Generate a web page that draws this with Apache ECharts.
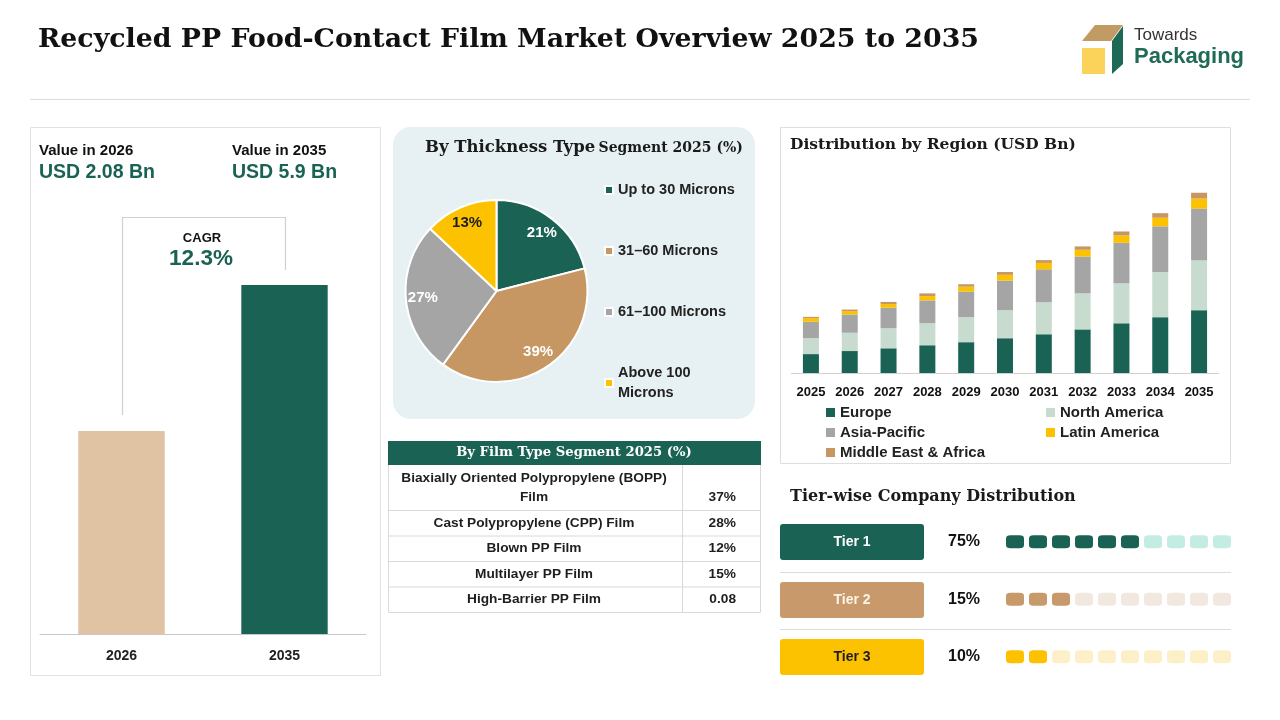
<!DOCTYPE html>
<html><head><meta charset="utf-8">
<script src="https://cdn.jsdelivr.net/npm/echarts@6/dist/echarts.min.js"></script>
<style>html,body{margin:0;padding:0;background:#fff}#c{width:1280px;height:720px}</style>
</head><body><div id="c"></div>
<script>
// ---------- data ----------
const pageTitle = 'Recycled PP Food-Contact Film Market Overview 2025 to 2035';
const summaryYears = ['2026', '2035'];
const summaryValues = [2.08, 5.9];
const summaryCaptions = ['Value in 2026', 'Value in 2035'];
const summaryLabels = ['USD 2.08 Bn', 'USD 5.9 Bn'];
const cagrValue = '12.3%';

const thicknessNames = ['Up to 30 Microns', '31–60 Microns', '61–100 Microns', 'Above 100 Microns'];
const thicknessShares = [21, 39, 27, 13];

const filmTypes = ['Biaxially Oriented Polypropylene (BOPP)\nFilm', 'Cast Polypropylene (CPP) Film', 'Blown PP Film', 'Multilayer PP Film', 'High-Barrier PP Film'];
const filmShares = ['37%', '28%', '12%', '15%', '0.08'];

const regionYears = ['2025', '2026', '2027', '2028', '2029', '2030', '2031', '2032', '2033', '2034', '2035'];
const regionNames = ['Europe', 'North America', 'Asia-Pacific', 'Latin America', 'Middle East & Africa'];
const europe = [0.62, 0.72, 0.81, 0.91, 1.01, 1.14, 1.27, 1.43, 1.63, 1.83, 2.06];
const northAmerica = [0.52, 0.60, 0.66, 0.72, 0.82, 0.92, 1.05, 1.18, 1.31, 1.48, 1.64];
const asiaPacific = [0.54, 0.60, 0.67, 0.75, 0.84, 0.97, 1.08, 1.21, 1.33, 1.50, 1.69];
const latinAmerica = [0.12, 0.11, 0.12, 0.14, 0.16, 0.19, 0.21, 0.22, 0.24, 0.28, 0.33];
const middleEastAfrica = [0.04, 0.05, 0.07, 0.09, 0.08, 0.09, 0.09, 0.11, 0.13, 0.15, 0.19];

const tierNames = ['Tier 1', 'Tier 2', 'Tier 3'];
const tierShares = ['75%', '15%', '10%'];
const tierFilledDots = [6, 3, 2];
const tierDotCount = 10;

// ---------- styles ----------
const GREEN = '#1a6354', TAN = '#c69763', GRAY = '#a5a5a5', YELLOW = '#fcc200', MINT = '#c7dccf', BEIGE = '#dfc3a2';
const SANS = '"Liberation Sans", Arial, sans-serif';
const SERIF = '"DejaVu Serif", "Liberation Serif", serif';
const regionColors = [GREEN, MINT, GRAY, YELLOW, TAN];
const pieColors = [GREEN, TAN, GRAY, YELLOW];
const tierColors = [GREEN, '#c8996a', YELLOW];
const tierTextColors = ['#ffffff', '#fbf4ea', '#1e1e1e'];
const tierLight = ['#c3ede3', '#f1e9e0', '#fdf0c9'];

const chart = echarts.init(document.getElementById('c'));

function txt(x, y, text, font, fill, align) {
  return { type: 'text', x: x, y: y, z: 5, style: { text: text, font: font, fill: fill, align: align || 'left', verticalAlign: 'middle' } };
}
function line(x1, y1, x2, y2, color, w) {
  return { type: 'line', z: 1, shape: { x1: x1, y1: y1, x2: x2, y2: y2 }, style: { stroke: color, lineWidth: w || 1 } };
}

const g = [];
// header
g.push(txt(38, 40, pageTitle, 'bold 26.8px ' + SERIF, '#111'));
g.push(line(30, 99.5, 1250, 99.5, '#dcdcdc'));
// logo
g.push({ type: 'polygon', z: 1, shape: { points: [[1095, 25], [1123, 25], [1111, 41], [1082, 41]] }, style: { fill: '#c29a64' } });
g.push({ type: 'polygon', z: 1, shape: { points: [[1112, 41], [1123, 26], [1123, 64], [1112, 74]] }, style: { fill: '#1c6a55' } });
g.push({ type: 'rect', z: 1, shape: { x: 1082, y: 48, width: 23, height: 26 }, style: { fill: '#fbd35a' } });
g.push(txt(1134, 35, 'Towards', '17px ' + SANS, '#333'));
g.push(txt(1134, 57, 'Packaging', 'bold 22px ' + SANS, '#1f6b57'));

// left panel
g.push({ type: 'rect', z: 0, shape: { x: 30.5, y: 127.5, width: 350, height: 548 }, style: { fill: 'none', stroke: '#e2e2e2', lineWidth: 1 } });
g.push(txt(39, 151, summaryCaptions[0], 'bold 15px ' + SANS, '#111'));
g.push(txt(39, 173, summaryLabels[0], 'bold 19.5px ' + SANS, GREEN));
g.push(txt(232, 151, summaryCaptions[1], 'bold 15px ' + SANS, '#111'));
g.push(txt(232, 173, summaryLabels[1], 'bold 19.5px ' + SANS, GREEN));
g.push({ type: 'polyline', z: 1, shape: { points: [[122.5, 415], [122.5, 217.5], [285.5, 217.5], [285.5, 270]] }, style: { stroke: '#d0d0d0', lineWidth: 1.2, fill: null } });
g.push(txt(202, 238, 'CAGR', 'bold 13px ' + SANS, '#111', 'center'));
g.push(txt(201, 259, cagrValue, 'bold 22.5px ' + SANS, GREEN, 'center'));

// pie card
g.push({ type: 'rect', z: 0, shape: { x: 393, y: 127, width: 362, height: 292, r: 18 }, style: { fill: '#e7f1f3' } });
g.push({ type: 'text', x: 425, y: 148, z: 5, style: {
  text: '{a|By Thickness Type} {b|Segment 2025 (%)}', verticalAlign: 'middle',
  rich: { a: { font: 'bold 16.5px ' + SERIF, fill: '#1a1a1a' }, b: { font: 'bold 14px ' + SERIF, fill: '#1a1a1a' } } } });

// table
const tX0 = 388.5, tX1 = 760.5, tXd = 682.5;
const rowTops = [465, 510, 535.5, 561, 586.5];
const rowBottom = 612;
const TF = 'bold 13.7px ' + SANS;
g.push({ type: 'rect', z: 1, shape: { x: 388, y: 441, width: 373, height: 24 }, style: { fill: GREEN } });
g.push(txt(574, 453, 'By Film Type Segment 2025 (%)', 'bold 13.2px ' + SERIF, '#ffffff', 'center'));
filmTypes.forEach(function (name, i) {
  const top = rowTops[i];
  const bot = i < rowTops.length - 1 ? rowTops[i + 1] : rowBottom;
  const lines = name.split('\n');
  if (lines.length > 1) {
    g.push(txt(534, top + 13, lines[0], TF, '#1e1e1e', 'center'));
    g.push(txt(534, top + 32, lines[1], TF, '#1e1e1e', 'center'));
    g.push(txt(736, top + 32, filmShares[i], TF, '#1e1e1e', 'right'));
  } else {
    g.push(txt(534, (top + bot) / 2, name, TF, '#1e1e1e', 'center'));
    g.push(txt(736, (top + bot) / 2, filmShares[i], TF, '#1e1e1e', 'right'));
  }
  g.push(line(tX0, bot + 0.5, tX1, bot + 0.5, '#d9d9d9'));
});
g.push(line(tX0, 465, tX0, rowBottom, '#d9d9d9'));
g.push(line(tX1, 465, tX1, rowBottom, '#d9d9d9'));
g.push(line(tXd, 465, tXd, rowBottom, '#d9d9d9'));

// right top panel
g.push({ type: 'rect', z: 0, shape: { x: 780.5, y: 127.5, width: 450, height: 336 }, style: { fill: 'none', stroke: '#dedede', lineWidth: 1 } });
g.push(txt(790, 145, 'Distribution by Region (USD Bn)', 'bold 15.5px ' + SERIF, '#1a1a1a'));

// tier section
g.push(txt(790, 497, 'Tier-wise Company Distribution', 'bold 16px ' + SERIF, '#1a1a1a'));
const tierBoxTops = [524, 582, 639];
const tierCenters = [542, 600, 657];
tierNames.forEach(function (n, i) {
  g.push({ type: 'rect', z: 1, shape: { x: 780, y: tierBoxTops[i], width: 144, height: 36, r: 3 }, style: { fill: tierColors[i] } });
  g.push(txt(852, tierBoxTops[i] + 18, n, 'bold 14px ' + SANS, tierTextColors[i], 'center'));
  g.push(txt(964, tierCenters[i], tierShares[i], 'bold 16px ' + SANS, '#111', 'center'));
});
g.push(line(780, 572.5, 1231, 572.5, '#dcdcdc'));
g.push(line(780, 629.5, 1231, 629.5, '#dcdcdc'));

// tier dots data
const dotData = [];
tierNames.forEach(function (n, r) {
  for (let i = 0; i < tierDotCount; i++) {
    dotData.push({ value: [i, r], itemStyle: { color: i < tierFilledDots[r] ? tierColors[r] : tierLight[r], opacity: 1 } });
  }
});

const regionSeries = [europe, northAmerica, asiaPacific, latinAmerica, middleEastAfrica].map(function (arr, i) {
  return { name: regionNames[i], type: 'bar', stack: 'region', xAxisIndex: 1, yAxisIndex: 1, barWidth: 16, data: arr, itemStyle: { color: regionColors[i] } };
});

const labelColors = ['#ffffff', '#ffffff', '#ffffff', '#1e1e1e'];

const option = {
  animation: false,
  textStyle: { fontFamily: SANS },
  grid: [
    { left: 40, top: 285, width: 326, height: 349 },
    { left: 791.5, top: 190, width: 427, height: 183 },
    { left: 1003.5, top: 513, width: 230, height: 172.5 }
  ],
  xAxis: [
    { gridIndex: 0, type: 'category', data: summaryYears, axisLine: { onZero: false, lineStyle: { color: '#c8c8c8' } }, axisTick: { show: false },
      axisLabel: { color: '#222', fontWeight: 'bold', fontSize: 14, margin: 15 } },
    { gridIndex: 1, type: 'category', data: regionYears, axisLine: { lineStyle: { color: '#d0d0d0' } }, axisTick: { show: false },
      axisLabel: { color: '#111', fontWeight: 'bold', fontSize: 13, margin: 13, interval: 0 } },
    { gridIndex: 2, type: 'value', min: -0.5, max: 9.5, show: false }
  ],
  yAxis: [
    { gridIndex: 0, type: 'value', min: -3.23, max: 5.9, show: false },
    { gridIndex: 1, type: 'value', min: 0, max: 6, show: false },
    { gridIndex: 2, type: 'value', min: -0.5, max: 2.5, inverse: true, show: false }
  ],
  legend: [
    { data: thicknessNames, orient: 'vertical', left: 604, top: 180, padding: 0, itemWidth: 8, itemHeight: 8, itemGap: 41, icon: 'rect',
      formatter: function (n) { return n === 'Above 100 Microns' ? 'Above 100\nMicrons' : n; },
      textStyle: { fontSize: 14.5, fontWeight: 'bold', color: '#222', lineHeight: 20 } },
    { data: regionNames, left: 826, top: 405, padding: 0, width: 440, itemWidth: 9, itemHeight: 9, itemGap: 5, icon: 'rect',
      textStyle: { fontSize: 15, fontWeight: 'bold', color: '#222', width: 201, lineHeight: 10 } }
  ],
  graphic: { elements: g },
  series: [
    { type: 'custom', xAxisIndex: 0, yAxisIndex: 0, data: summaryValues.map(function (v, i) { return [i, v]; }),
      renderItem: function (params, api) {
        const top = api.coord([api.value(0), api.value(1)]);
        const base = api.coord([api.value(0), -3.23]);
        const w = api.size([1, 0])[0] * 0.53;
        return { type: 'rect', shape: { x: top[0] - w / 2, y: top[1], width: w, height: base[1] - top[1] },
          style: { fill: params.dataIndex === 0 ? BEIGE : GREEN } };
      } },
    { type: 'pie', center: [496.5, 291], radius: 91, startAngle: 90, silent: true,
      data: thicknessNames.map(function (n, i) { return { name: n, value: thicknessShares[i], itemStyle: { color: pieColors[i] } }; }),
      itemStyle: { borderColor: '#ffffff', borderWidth: 2 }, label: { show: false }, labelLine: { show: false } },
    { type: 'pie', center: [496.5, 291], radius: [56, 86], startAngle: 90, silent: true, legendHoverLink: false,
      data: thicknessNames.map(function (n, i) { return { name: n, value: thicknessShares[i], itemStyle: { color: 'rgba(0,0,0,0)' },
        label: { color: labelColors[i] } }; }),
      label: { show: true, position: 'inside', formatter: '{c}%', fontSize: 15, fontWeight: 'bold' }, labelLine: { show: false } }
  ].concat(regionSeries).concat([
    { type: 'scatter', xAxisIndex: 2, yAxisIndex: 2, symbol: 'roundRect', symbolSize: [18, 13], silent: true, data: dotData }
  ])
};
chart.setOption(option);
</script></body></html>
